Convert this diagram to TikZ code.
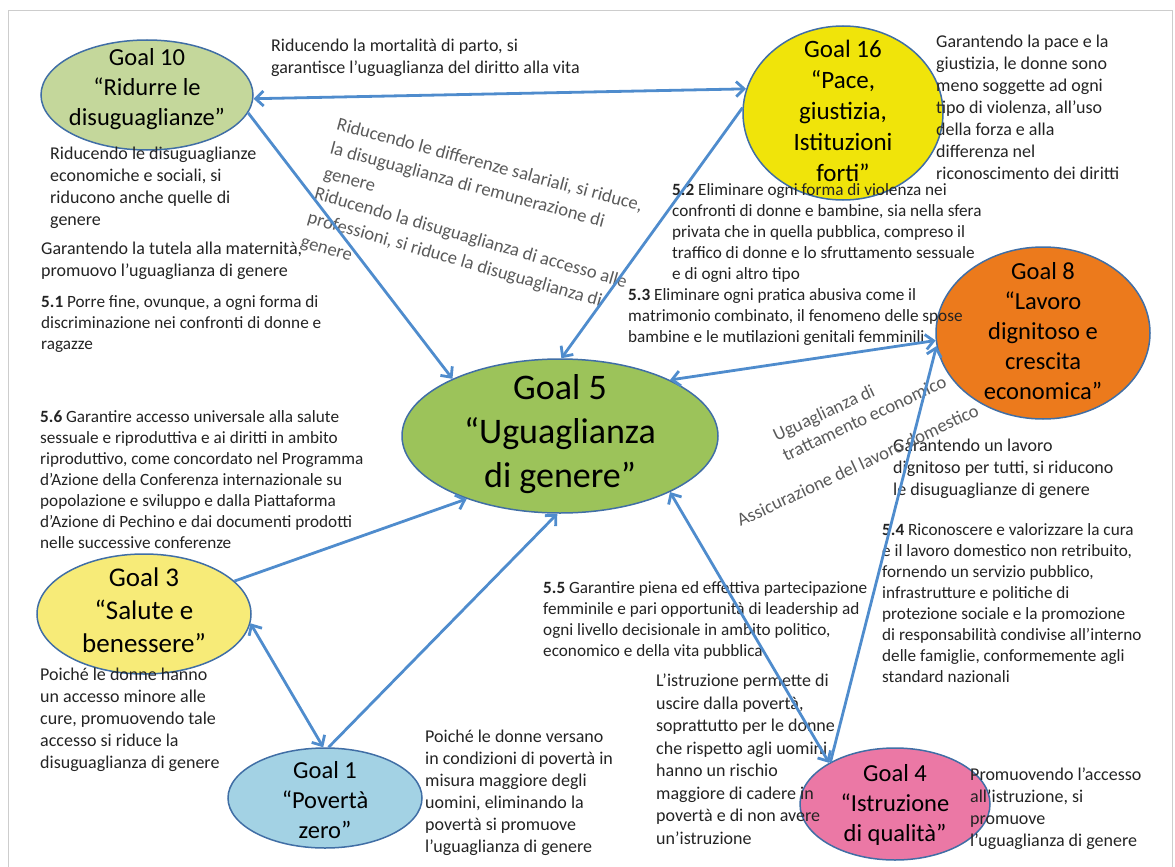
\documentclass[tikz,border=0pt]{standalone}
\usepackage{fontspec}
\setmainfont{Carlito}
\usetikzlibrary{arrows.meta,shapes.geometric}
\definecolor{rimblue}{RGB}{64,110,165}
\definecolor{linkblue}{RGB}{79,140,205}
\definecolor{ink}{RGB}{35,35,35}
\definecolor{slate}{RGB}{90,90,90}
\definecolor{framegray}{RGB}{205,205,205}
\definecolor{tengreen}{RGB}{196,215,155}
\definecolor{peaceyellow}{RGB}{240,228,10}
\definecolor{workorange}{RGB}{236,122,28}
\definecolor{fivegreen}{RGB}{156,195,90}
\definecolor{healthyellow}{RGB}{247,235,120}
\definecolor{povblue}{RGB}{163,210,228}
\definecolor{edupink}{RGB}{235,120,165}
\tikzset{
	goal/.style={ellipse, draw=rimblue, line width=1.5pt, inner sep=0pt},
	goaltxt/.style={align=center, inner sep=0pt, text=black, font=\fontsize{24.5}{30}\selectfont},
	bodytxt/.style={anchor=north west, inner sep=0pt, align=left, text=ink, font=\fontsize{18}{22}\selectfont},
	sdgtxt/.style={bodytxt, font=\fontsize{17.2}{21}\selectfont},
	rottxt/.style={anchor=north west, inner sep=0pt, align=left, text=slate, font=\fontsize{18.6}{25}\selectfont},
	conn/.style={draw=linkblue, line width=2.8pt, -{Straight Barb[length=8pt,width=15pt]}},
	biconn/.style={conn, {Straight Barb[length=8pt,width=15pt]}-{Straight Barb[length=8pt,width=15pt]}},
}

\begin{document}
\begin{tikzpicture}[x=1pt, y=-1pt]
			%%%%% START %%%%%
			\useasboundingbox (0, 0) rectangle (1175, 867);
			\draw[framegray, line width=1pt] (8, 867) -- (8, 11) -- (1172, 11) -- (1172, 867);
			
			\node[goal, fill=tengreen, minimum width=212pt, minimum height=110pt] (g10) at (147, 95) {};
			\node[goaltxt] (g10t) at (147, 89) {Goal 10\\“Ridurre le\\disuguaglianze”};
			
			\node[goal, fill=peaceyellow, minimum width=200pt, minimum height=174pt] (g16) at (843, 113) {};
			\node[goaltxt, font=\fontsize{25}{31}\selectfont] (g16t) at (843, 111) {Goal 16\\“Pace,\\giustizia,\\Istituzioni\\forti”};
			
			\node[goal, fill=workorange, minimum width=214pt, minimum height=172pt] (g8) at (1043, 333) {};
			\node[goaltxt] (g8t) at (1043, 331) {Goal 8\\“Lavoro\\dignitoso e\\crescita\\economica”};
			
			\node[goal, fill=fivegreen, minimum width=316pt, minimum height=154pt] (g5) at (560, 436) {};
			\node[goaltxt, font=\fontsize{36}{44}\selectfont] (g5t) at (560, 434) {Goal 5\\“Uguaglianza\\di genere”};
			
			\node[goal, fill=healthyellow, minimum width=214pt, minimum height=120pt] (g3) at (144, 614) {};
			\node[goaltxt, font=\fontsize{27}{33}\selectfont] (g3t) at (144, 610) {Goal 3\\“Salute e\\benessere”};
			
			\node[goal, fill=povblue, minimum width=194pt, minimum height=100pt] (g1) at (325, 798) {};
			\node[goaltxt] (g1t) at (325, 800) {Goal 1\\“Povertà\\zero”};
			
			\node[goal, fill=edupink, minimum width=190pt, minimum height=112pt] (g4) at (895, 804) {};
			\node[goaltxt] (g4t) at (895, 805) {Goal 4\\“Istruzione\\di qualità”};
			
			\node[bodytxt] (mort) at (271, 39) {Riducendo la mortalità di parto, si\\garantisce l’uguaglianza del diritto alla vita};
			\node[bodytxt] (dis) at (50, 147) {Riducendo le disuguaglianze\\economiche e sociali, si\\riducono anche quelle di\\genere};
			\node[bodytxt] (mat) at (41, 242) {Garantendo la tutela alla maternità,\\promuovo l’uguaglianza di genere};
			\node[sdgtxt] (t51) at (41, 295) {\textbf{5.1} Porre fine, ovunque, a ogni forma di\\discriminazione nei confronti di donne e\\ragazze};
			\node[bodytxt] (pace) at (936, 35) {Garantendo la pace e la\\giustizia, le donne sono\\meno soggette ad ogni\\tipo di violenza, all’uso\\della forza e alla\\differenza nel\\riconoscimento dei diritti};
			\node[sdgtxt] (t52) at (672, 183) {\textbf{5.2} Eliminare ogni forma di violenza nei\\confronti di donne e bambine, sia nella sfera\\privata che in quella pubblica, compreso il\\traffico di donne e lo sfruttamento sessuale\\e di ogni altro tipo};
			\node[sdgtxt] (t53) at (628, 288) {\textbf{5.3} Eliminare ogni pratica abusiva come il\\matrimonio combinato, il fenomeno delle spose\\bambine e le mutilazioni genitali femminili};
			\node[bodytxt] (lav) at (893, 439) {Garantendo un lavoro\\dignitoso per tutti, si riducono\\le disuguaglianze di genere};
			\node[sdgtxt] (t54) at (882, 523) {\textbf{5.4} Riconoscere e valorizzare la cura\\e il lavoro domestico non retribuito,\\fornendo un servizio pubblico,\\infrastrutture e politiche di\\protezione sociale e la promozione\\di responsabilità condivise all'interno\\delle famiglie, conformemente agli\\standard nazionali};
			\node[sdgtxt] (t56) at (40, 410) {\textbf{5.6} Garantire accesso universale alla salute\\sessuale e riproduttiva e ai diritti in ambito\\riproduttivo, come concordato nel Programma\\d'Azione della Conferenza internazionale su\\popolazione e sviluppo e dalla Piattaforma\\d'Azione di Pechino e dai documenti prodotti\\nelle successive conferenze};
			\node[bodytxt] (cure) at (40, 668) {Poiché le donne hanno\\un accesso minore alle\\cure, promuovendo tale\\accesso si riduce la\\disuguaglianza di genere};
			\node[sdgtxt] (t55) at (543, 581) {\textbf{5.5} Garantire piena ed effettiva partecipazione\\femminile e pari opportunità di leadership ad\\ogni livello decisionale in ambito politico,\\economico e della vita pubblica};
			\node[bodytxt] (pov) at (425, 730) {Poiché le donne versano\\in condizioni di povertà in\\misura maggiore degli\\uomini, eliminando la\\povertà si promuove\\l’uguaglianza di genere};
			\node[bodytxt, font=\fontsize{18}{22.5}\selectfont] (istr) at (656, 674) {L’istruzione permette di\\uscire dalla povertà,\\soprattutto per le donne\\che rispetto agli uomini\\hanno un rischio\\maggiore di cadere in\\povertà e di non avere\\un’istruzione};
			\node[bodytxt] (acc) at (970, 768) {Promuovendo l’accesso\\all’istruzione, si\\promuove\\l’uguaglianza di genere};
			
			\node[rottxt, rotate=-15] (sal) at (339, 117) {Riducendo le differenze salariali, si riduce,\\la disuguaglianza di remunerazione di\\genere};
			\node[rottxt, rotate=-16] (prof) at (317, 186) {Riducendo la disuguaglianza di accesso alle\\professioni, si riduce la disuguaglianza di\\genere};
			\node[rottxt, rotate=25, font=\fontsize{18.6}{22}\selectfont] (tratt) at (771, 430) {Uguaglianza di\\trattamento economico};
			\node[rottxt, rotate=25] (dom) at (735, 515) {Assicurazione del lavoro domestico};
			
			\draw[biconn] (g10.-2) -- (g16.166);
			\draw[conn] (g10.-10) -- (g5.152);
			\draw[conn] (g16.177) -- (g5.89);
			\draw[biconn] (g8.184) -- (g5.27);
			\draw[conn] (g4.147) -- (g8.187);
			\draw[biconn] (g5.-27) -- (g4.148);
			\draw[conn] (g3.20) -- (g5.-146);
			\draw[biconn] (g3.-5) -- (g1.92);
			\draw[conn] (g1.86) -- (g5.-92);
			
			%%%%% END %%%%%
		\end{tikzpicture}
\end{document}
